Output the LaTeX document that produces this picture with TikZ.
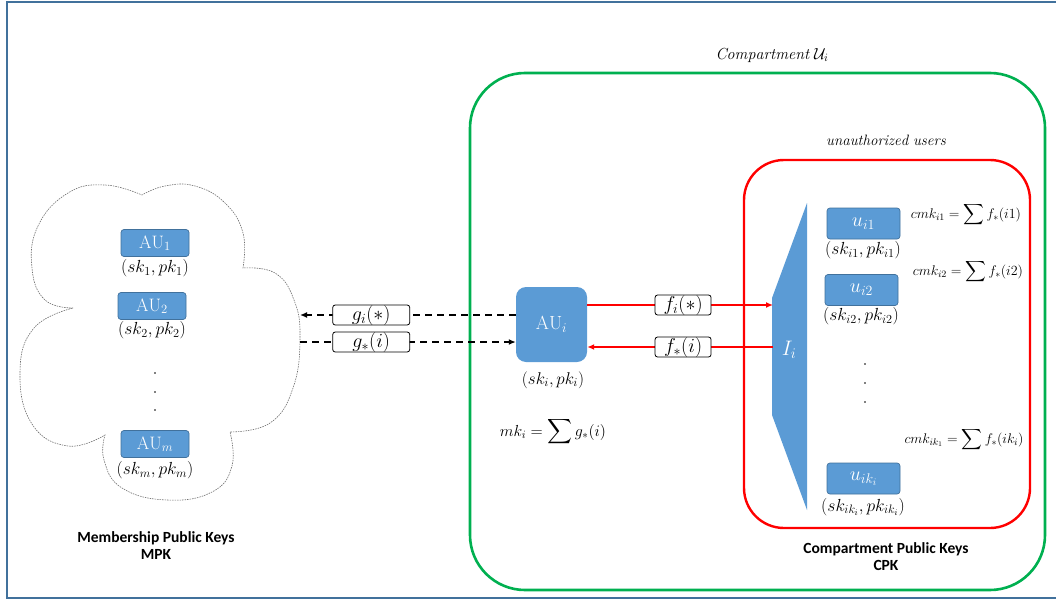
\RequirePackage{fix-cm}
\documentclass[tikz,border=0pt]{standalone}
\usepackage{amsmath}
\usepackage{fontspec}
\newfontfamily\calibri{Carlito}
\usetikzlibrary{arrows.meta}
\definecolor{frameblue}{RGB}{65,113,156}
\definecolor{boxblue}{RGB}{91,155,213}
\definecolor{boxedge}{RGB}{65,113,156}
\definecolor{compgreen}{RGB}{0,176,80}
\definecolor{userred}{RGB}{255,0,0}
\definecolor{cloudgray}{RGB}{110,110,110}
\newcommand{\fs}[1]{\fontsize{#1}{#1}\selectfont}

\begin{document}
\begin{tikzpicture}[x=1pt,y=-1pt,
  keybox/.style={draw=boxedge, fill=boxblue, rounded corners=3pt, line width=0.7pt,
    minimum width=68pt, minimum height=27pt, inner sep=0pt, text=white, font=\fs{18}},
  userbox/.style={keybox, minimum width=73pt, minimum height=31pt, font=\fs{20}},
  keylbl/.style={inner sep=0pt, font=\fs{17.5}},
  eqlbl/.style={inner sep=0pt, font=\fs{14}},
  fnbox/.style={solid, draw=black, fill=white, text=black, rounded corners=2.5pt, line width=0.8pt,
    minimum height=19pt, inner sep=0pt, font=\fs{20}},
  titlelbl/.style={align=center, inner sep=0pt, font=\calibri\bfseries\fs{15.5}\linespread{1.1}\selectfont},
  dasharrow/.style={line width=1.7pt, dash pattern=on 7pt off 5pt,
    -{Latex[length=7pt,width=6pt]}},
  redarrow/.style={userred, line width=1.4pt, -{Latex[length=7pt,width=6pt]}},
  cloudline/.style={cloudgray, line width=0.6pt, dash pattern=on 1.5pt off 1pt},
  dotfill/.style={fill=black}
]
\useasboundingbox (0,0) rectangle (1056,599);

% outer frame
\draw[frameblue, line width=1.2pt] (1056,2) -- (7,2) -- (7,598) -- (1056,598);

% membership cloud
\draw[cloudline]
  plot[smooth, tension=0.75] coordinates {(73,308) (45,300) (32,268) (38,226) (68,193) (105,185) (142,195)}
  -- plot[smooth, tension=0.75] coordinates {(142,195) (165,186) (195,186) (225,203) (243,233) (243,268)}
  -- plot[smooth, tension=0.75] coordinates {(243,268) (275,273) (294,300) (300,338) (293,388) (270,423) (230,432)}
  -- plot[smooth, tension=0.75] coordinates {(230,432) (232,466) (212,492) (167,500) (122,488) (104,460) (105,435)}
  -- plot[smooth, tension=0.75] coordinates {(105,435) (68,446) (32,424) (20,372) (34,328) (73,308)};
\coordinate (cloudin) at (300,315);
\coordinate (cloudout) at (300,342);

% authorised members of the cloud
\node[keybox] (au1) at (155,243) {$\mathrm{AU}_1$};
\node[keylbl] (au1k) at (155,268) {$(sk_1, pk_1)$};
\node[keybox] (au2) at (152,306) {$\mathrm{AU}_2$};
\node[keylbl] (au2k) at (152,330) {$(sk_2, pk_2)$};
\fill[dotfill] (155,373) circle (0.9);
\fill[dotfill] (155,392) circle (0.9);
\fill[dotfill] (155,410) circle (0.9);
\node[keybox] (aum) at (155,444) {$\mathrm{AU}_m$};
\node[keylbl] (aumk) at (155,470) {$(sk_m, pk_m)$};
\node[titlelbl] (mpk) at (156,546) {Membership Public Keys\\MPK};

% compartment
\node[draw=compgreen, line width=2.6pt, rounded corners=55pt,
  minimum width=575pt, minimum height=517pt, inner sep=0pt] (comp) at (757.5,331.5) {};
\node[inner sep=0pt, font=\fs{16}] (comptitle) at (772,55) {$\mathit{Compartment}\ \mathcal{U}_i$};

% unauthorised users
\node[draw=userred, line width=2.4pt, rounded corners=40pt,
  minimum width=286pt, minimum height=368pt, inner sep=0pt] (users) at (887,344) {};
\node[inner sep=0pt, font=\fs{15}] (userstitle) at (886,140) {$\mathit{unauthorized}\ \mathit{users}$};

% authority of the compartment
\node[fill=boxblue, rounded corners=10pt, minimum width=71pt, minimum height=75pt,
  inner sep=0pt, text=white, font=\fs{19}] (aui) at (551.5,324.5) {$\mathrm{AU}_i$};
\node[keylbl, font=\fs{17}] (auik) at (553,380) {$(sk_i, pk_i)$};
\node[keylbl, font=\fs{16}] (mki) at (553,432) {$mk_i = \displaystyle\sum g_{*}(i)$};

% interface I_i
\coordinate (Iin) at (773,305);
\coordinate (Iout) at (773,347);
\fill[boxblue] (807,203) -- (772,298) -- (772,415) -- (807,510) -- cycle;
\node[inner sep=0pt, text=white, font=\fs{21}] (Ii) at (789,350) {$I_i$};

% exchanges with the membership cloud
\draw[dasharrow] (aui.west |- cloudin) -- node[fnbox, pos=0.67, minimum width=77pt] (gi) {$g_i(*)$} (cloudin);
\draw[dasharrow] (cloudout) -- node[fnbox, pos=0.33, minimum width=77pt] (gs) {$g_{*}(i)$} (aui.west |- cloudout);

% exchanges with the users
\draw[redarrow] (aui.east |- Iin) -- node[fnbox, pos=0.516, minimum width=56pt] (fi) {$f_i(*)$} (Iin);
\draw[redarrow] (Iout) -- node[fnbox, pos=0.484, minimum width=56pt] (fs) {$f_{*}(i)$} (aui.east |- Iout);

% users
\node[userbox] (ui1) at (863.5,223.5) {$u_{i1}$};
\node[keylbl] (ui1k) at (863,250) {$(sk_{i1}, pk_{i1})$};
\node[eqlbl] (cmk1) at (966,215) {$cmk_{i1} = \displaystyle\sum f_{*}(i1)$};
\node[userbox] (ui2) at (861.5,290) {$u_{i2}$};
\node[keylbl] (ui2k) at (861,316) {$(sk_{i2}, pk_{i2})$};
\node[eqlbl] (cmk2) at (968,272) {$cmk_{i2} = \displaystyle\sum f_{*}(i2)$};
\fill[dotfill] (865,364) circle (0.9);
\fill[dotfill] (865,383) circle (0.9);
\fill[dotfill] (865,402) circle (0.9);
\node[eqlbl] (cmkk) at (964,440) {$cmk_{ik_1} = \displaystyle\sum f_{*}(ik_i)$};
\node[userbox] (uik) at (863.5,478.5) {$u_{ik_i}$};
\node[keylbl] (uikk) at (863,507) {$(sk_{ik_i}, pk_{ik_i})$};
\node[titlelbl] (cpk) at (886,557) {Compartment Public Keys\\CPK};
\end{tikzpicture}
\end{document}
